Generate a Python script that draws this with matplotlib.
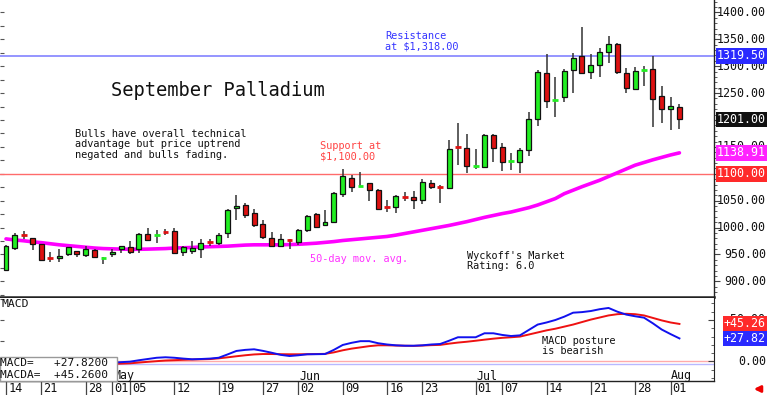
import numpy as np
import pandas as pd
import matplotlib
matplotlib.use('Agg')
import matplotlib.pyplot as plt
from matplotlib.transforms import blended_transform_factory as btf
from matplotlib.patches import Rectangle

# ---------------- data ----------------
holidays = ['2025-04-18', '2025-05-26', '2025-06-19', '2025-07-04']
dates = pd.bdate_range('2025-04-14', '2025-08-04')
dates = dates[~dates.isin(pd.to_datetime(holidays))]

opens = [922, 962, 987, 981, 969, 945, 943, 951, 956, 949, 959, 943, 951, 960, 963, 960,
         989, 986, 992, 994, 955, 956, 961, 975, 972, 990, 1036, 1042, 1027, 1006, 981, 966,
         978, 974, 995, 1025, 1004, 1010, 1062, 1092, 1077, 1082, 1070, 1040, 1038, 1058, 1056,
         1052, 1083, 1076, 1073, 1150, 1148, 1114, 1113, 1172, 1149, 1122, 1121, 1145, 1201,
         1288, 1237, 1243, 1292, 1319, 1289, 1302, 1327, 1342, 1288, 1257, 1292, 1294, 1244,
         1220, 1225]
highs = [968, 990, 994, 981, 970, 955, 960, 964, 957, 966, 961, 946, 961, 966, 976, 990,
         999, 996, 997, 999, 966, 976, 979, 978, 990, 1034, 1060, 1046, 1034, 1014, 991, 988,
         979, 998, 1024, 1027, 1033, 1066, 1108, 1098, 1104, 1083, 1072, 1051, 1061, 1066, 1068,
         1091, 1089, 1079, 1163, 1194, 1174, 1146, 1174, 1174, 1157, 1138, 1147, 1215, 1293,
         1322, 1279, 1294, 1324, 1373, 1322, 1333, 1356, 1344, 1296, 1299, 1301, 1319, 1264,
         1243, 1230]
lows = [920, 958, 979, 958, 939, 936, 936, 948, 945, 946, 943, 932, 946, 952, 951, 952,
        976, 972, 987, 951, 947, 951, 944, 966, 968, 980, 1014, 1018, 1001, 979, 966, 964,
        961, 968, 991, 1001, 1003, 1008, 1057, 1067, 1076, 1050, 1032, 1029, 1028, 1050, 1034,
        1044, 1072, 1046, 1072, 1116, 1101, 1109, 1112, 1122, 1105, 1107, 1101, 1133, 1189,
        1222, 1205, 1234, 1251, 1286, 1277, 1279, 1306, 1286, 1250, 1256, 1264, 1187, 1195,
        1181, 1184]
closes = [966, 986, 985, 969, 940, 943, 948, 963, 950, 961, 945, 945, 955, 965, 955, 989,
          977, 988, 990, 952, 963, 962, 971, 973, 986, 1033, 1041, 1023, 1005, 983, 966, 978,
          976, 995, 1022, 1002, 1010, 1065, 1095, 1076, 1079, 1070, 1034, 1037, 1059, 1056, 1052,
          1085, 1075, 1074, 1146, 1148, 1115, 1116, 1172, 1147, 1121, 1124, 1144, 1201, 1290,
          1236, 1239, 1291, 1316, 1287, 1302, 1326, 1342, 1289, 1260, 1291, 1293, 1239, 1220,
          1226, 1201]
ma50 = [979, 977, 975.5, 973.5, 972, 970, 968, 966.5, 965, 963.5, 962, 961, 960.5, 960, 959.7,
        959.7, 960, 960.5, 961, 962, 962.5, 963, 964, 964.5, 965, 965.5, 966.5, 967.5, 968, 968,
        968, 968, 968.5, 969, 970, 971, 972.5, 974, 976, 977.5, 979, 980.5, 982, 983.5, 986, 989,
        992, 995, 998, 1001, 1004, 1007.5, 1011, 1015, 1019, 1022.5, 1026, 1029, 1033, 1037,
        1042, 1048, 1054, 1063, 1069.5, 1076, 1082, 1088, 1095, 1102, 1109, 1116, 1121, 1126,
        1130.5, 1135, 1138.91]
macd = [-6, -5, -4.5, -4, -3.5, -3, -3, -2.5, -2.5, -2, -2, -1.5, -1.4, -0.8, -0.2, 1.5, 3,
        4.5, 5.1, 4.5, 3.5, 2.7, 3, 3.5, 4.5, 8.5, 12.7, 14, 14.7, 12.8, 10.5, 8, 6.6, 7.5, 8.7,
        8.8, 9, 14, 19.9, 22.5, 24.5, 24.5, 22, 20.5, 19.5, 19, 19, 19.5, 20.5, 21.1, 25, 29.2,
        29.2, 29.2, 34, 34, 32, 30.7, 31.5, 38, 44.5, 47, 50, 54, 58.8, 59.5, 60.8, 63, 64.5,
        60, 56.5, 54.5, 52.8, 46, 38.5, 33, 27.82]
macda = [-6, -5.8, -5.5, -5.2, -5, -4.7, -4.5, -4.2, -4, -3.7, -3.5, -3.2, -3, -2.6, -2.2,
         -1.3, -0.4, 0.4, 1.2, 1.6, 2, 2.3, 2.6, 2.9, 3.8, 5, 6.3, 7.5, 8.5, 9, 9, 8.8, 8.7,
         8.7, 8.8, 9, 9.2, 11, 13.5, 15.5, 17, 18.5, 19.5, 19.5, 19.2, 19, 18.8, 19.2, 19.7, 20,
         21.5, 22.8, 23.8, 25, 26.3, 27.5, 28.5, 29.2, 30, 32.5, 35, 37.5, 39.5, 42, 44.5, 47.5,
         50.5, 53, 55.5, 57, 57.5, 57, 55.5, 52.5, 49.5, 47, 45.26]

resistance = 1319.50
support = 1100.00
price_ticks = [900, 950, 1000, 1050, 1100, 1150, 1200, 1250, 1300, 1350, 1400]

tick_dates = ['2025-04-14', '2025-04-21', '2025-04-28', '2025-05-01', '2025-05-05',
              '2025-05-12', '2025-05-19', '2025-05-27', '2025-06-02', '2025-06-09',
              '2025-06-16', '2025-06-23', '2025-07-01', '2025-07-07', '2025-07-14',
              '2025-07-21', '2025-07-28', '2025-08-01']
tick_labels = ['14', '21', '28', '01', '05', '12', '19', '27', '02', '09', '16', '23',
               '01', '07', '14', '21', '28', '01']
month_dates = ['2025-05-01', '2025-06-02', '2025-07-01', '2025-08-01']
month_labels = ['May', 'Jun', 'Jul', 'Aug']

# ---------------- figure ----------------
W, H = 768, 395
MONO = 'DejaVu Sans Mono'
plt.rcParams['font.family'] = [MONO, 'DejaVu Sans']

fig = plt.figure(figsize=(W / 100, H / 100), dpi=100)
fig.patch.set_facecolor('white')


def fx(x):
    return x / W


def fy(y):
    return 1 - y / H


ax = fig.add_axes([0, fy(297), fx(714), 297 / H])
ax2 = fig.add_axes([0, fy(381), fx(714), 83 / H])

x = np.arange(len(dates))
xlim = (-0.677, 79.9)

# candles
GREEN = '#22ee22'
RED = '#dd1111'
bw = 0.56
for i in x:
    o, h, l, c = opens[i], highs[i], lows[i], closes[i]
    up = c >= o
    col = GREEN if up else RED
    ax.plot([i, i], [l, h], color='#333333', lw=1.1, zorder=3, solid_capstyle='butt')
    if abs(c - o) < 4:
        ax.plot([i - bw / 2 - 0.05, i + bw / 2 + 0.05], [(o + c) / 2] * 2, color=col, lw=2,
                zorder=4, solid_capstyle='butt')
    else:
        ax.add_patch(Rectangle((i - bw / 2, min(o, c)), bw, abs(c - o), facecolor=col,
                               edgecolor='#111111', lw=0.9, zorder=4))

ax.plot(x, ma50, color='#ff00ff', lw=2.6, zorder=2, solid_capstyle='round')
ax.axhline(resistance, color='#8c8cff', lw=1.3, zorder=1)
ax.axhline(support, color='#ff6b6b', lw=1.0, zorder=1)

ax.set_xlim(*xlim)
ax.set_ylim(871, 1423)
for s in ['top', 'left']:
    ax.spines[s].set_visible(False)
ax.spines['right'].set_color('#222222')
ax.spines['right'].set_linewidth(1.0)
ax.spines['bottom'].set_color('#222222')
ax.spines['bottom'].set_linewidth(1.8)
ax.set_xticks([])
ax.yaxis.tick_right()
ax.set_yticks(price_ticks)
ax.set_yticks(np.arange(880, 1421, 10), minor=True)
ax.tick_params(axis='y', which='major', length=4, color='#444444', labelright=False)
ax.tick_params(axis='y', which='minor', length=2, color='#444444')

# small inward ticks on the left edge
secl = ax.secondary_yaxis('left')
secl.set_yticks(np.arange(875, 1425, 25))
secl.tick_params(direction='in', length=3, color='#555555', labelleft=False)
secl.spines['left'].set_visible(False)

tr = btf(ax.transAxes, ax.transData)
xr = fx(766) / fx(714)
for p in price_ticks:
    ax.text(xr, p, f'{p:.2f}', transform=tr, ha='right', va='center', fontsize=8.4,
            family=MONO, color='#111111', clip_on=False, zorder=5)


def boxed(axis, val, txt, fc):
    trb = btf(axis.transAxes, axis.transData)
    axis.text(xr, val, txt, transform=trb, ha='right', va='center', fontsize=8.4,
              family=MONO, color='white', clip_on=False, zorder=6,
              bbox=dict(boxstyle='square,pad=0.12', fc=fc, ec='none'))


boxed(ax, resistance, f'{resistance:.2f}', '#2a2aff')
boxed(ax, closes[-1], f'{closes[-1]:.2f}', '#111111')
boxed(ax, ma50[-1], f'{ma50[-1]:.2f}', '#ff22ff')
boxed(ax, support, f'{support:.2f}', '#ff2a2a')

# annotations (main)
fig.text(fx(111), fy(91), 'September Palladium', fontsize=13.5, family=MONO,
         ha='left', va='center', color='#111111')
fig.text(fx(75), fy(144.5), 'Bulls have overall technical\nadvantage but price uptrend\n'
         'negated and bulls fading.', fontsize=7.4, family=MONO, ha='left', va='center',
         color='#111111', linespacing=1.05)
fig.text(fx(385), fy(41.5), 'Resistance\nat $1,318.00', fontsize=7.4, family=MONO,
         ha='left', va='center', color='#3535ff', linespacing=1.05)
fig.text(fx(320), fy(151), 'Support at\n$1,100.00', fontsize=7.4, family=MONO,
         ha='left', va='center', color='#ff4444', linespacing=1.05)
fig.text(fx(310), fy(259), '50-day mov. avg.', fontsize=7.4, family=MONO,
         ha='left', va='center', color='#ff33ff')
fig.text(fx(467), fy(261), "Wyckoff's Market\nRating: 6.0", fontsize=7.4, family=MONO,
         ha='left', va='center', color='#111111', linespacing=1.05)

# ---------------- MACD panel ----------------
ax2.axhline(0, color='#ffaaaa', lw=1.0, zorder=1)
ax2.axhline(-2.5, color='#b8b8ff', lw=1.0, zorder=1)
ax2.plot(x, macda, color='#ee1111', lw=1.4, zorder=3)
ax2.plot(x, macd, color='#1111ee', lw=1.4, zorder=3)
ax2.set_xlim(*xlim)
ax2.set_ylim(-23.5, 76.5)
for s in ['top', 'left']:
    ax2.spines[s].set_visible(False)
ax2.spines['right'].set_color('#222222')
ax2.spines['bottom'].set_color('#222222')
ax2.spines['bottom'].set_linewidth(1.0)
ax2.set_xticks([])
ax2.yaxis.tick_right()
ax2.set_yticks([0, 50])
ax2.set_yticks(np.arange(-20, 76, 10), minor=True)
ax2.tick_params(axis='y', which='major', direction='in', length=4, color='#444444',
                labelright=False)
ax2.tick_params(axis='y', which='minor', direction='in', length=2, color='#444444')

secl2 = ax2.secondary_yaxis('left')
secl2.set_yticks([0, 25, 50, 75])
secl2.tick_params(direction='in', length=3, color='#555555', labelleft=False)
secl2.spines['left'].set_visible(False)

tr2 = btf(ax2.transAxes, ax2.transData)
for v in [0, 50]:
    ax2.text(xr, v, f'{v:.2f}' if v == 0 else f'+{v:.2f}', transform=tr2, ha='right',
             va='center', fontsize=8.4, family=MONO, color='#111111', clip_on=False, zorder=5)
boxed(ax2, macda[-1], f'+{macda[-1]:.2f}', '#ff2a2a')
boxed(ax2, macd[-1], f'+{macd[-1]:.2f}', '#2a2aff')

fig.text(fx(2), fy(304), 'MACD', fontsize=8.2, family=MONO, ha='left', va='center',
         color='#111111')
fig.text(fx(542), fy(346), 'MACD posture\nis bearish', fontsize=7.4, family=MONO,
         ha='left', va='center', color='#111111', linespacing=1.05)

# month labels and date row
date_index = {d.strftime('%Y-%m-%d'): k for k, d in enumerate(dates)}
trx = btf(ax2.transData, ax2.transAxes)
for d, lab in zip(month_dates, month_labels):
    ax2.annotate(lab, xy=(date_index[d], (381 - 376) / 83), xycoords=trx, xytext=(0.5, 0),
                 textcoords='offset points', ha='left', va='center', fontsize=8.4,
                 family=MONO, color='#111111', annotation_clip=False)
for d, lab in zip(tick_dates, tick_labels):
    k = date_index[d]
    ax2.plot([k, k], [(381 - 382) / 83, (381 - 395) / 83], transform=trx, color='#444444',
             lw=0.9, clip_on=False)
    ax2.annotate(lab, xy=(k, (381 - 389) / 83), xycoords=trx, xytext=(1.5, 0),
                 textcoords='offset points', ha='left', va='center', fontsize=8.6,
                 family=MONO, color='#111111', annotation_clip=False)

# value legend box
fig.patches.append(Rectangle((fx(0), fy(380.5)), fx(117), 24 / H, transform=fig.transFigure,
                             facecolor='white', edgecolor='#999999', lw=1.0, zorder=2))
fig.text(fx(0), fy(363), f'MACD=   {macd[-1]:+.4f}', fontsize=8, family=MONO,
         ha='left', va='center', color='#111111', zorder=4)
fig.text(fx(0), fy(375), f'MACDA=  {macda[-1]:+.4f}', fontsize=8, family=MONO,
         ha='left', va='center', color='#111111', zorder=4)

# red arrow bottom-right
ax2.annotate('', xy=(fx(751), fy(389)), xycoords='figure fraction',
             xytext=(fx(764), fy(389)), textcoords='figure fraction',
             arrowprops=dict(arrowstyle='-|>', color='#ee0000', lw=2, mutation_scale=9),
             annotation_clip=False)

fig.savefig('out.png', dpi=100, facecolor='white')
